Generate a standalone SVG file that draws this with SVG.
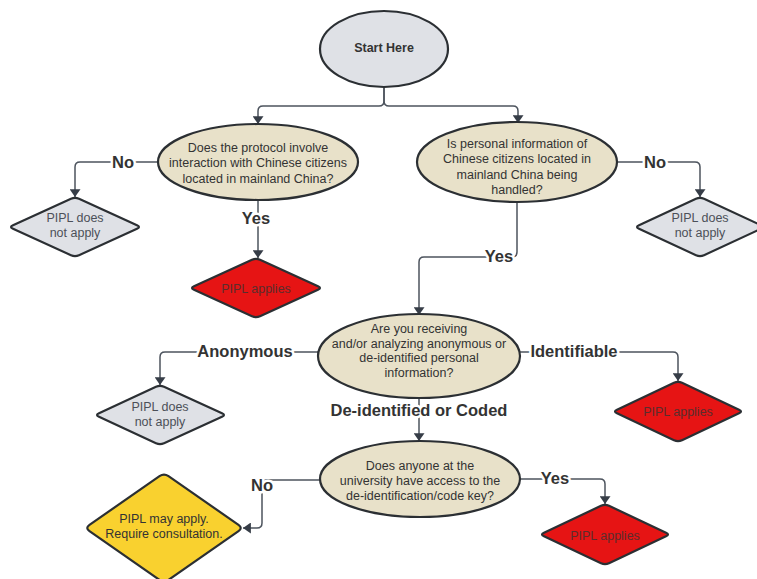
<svg xmlns="http://www.w3.org/2000/svg" width="757" height="579" viewBox="0 0 757 579">
  <defs>
    <marker id="arr" viewBox="0 0 10 14" refX="10" refY="7" markerWidth="14" markerHeight="11" markerUnits="userSpaceOnUse" orient="auto">
      <path d="M0,0 L10,7 L0,14 z" fill="#363d47"/>
    </marker>
    <style>
      .conn { fill: none; stroke: #4d545e; stroke-width: 1.5; marker-end: url(#arr); }
      .shape { stroke: #2b2f33; stroke-width: 2.2; stroke-linejoin: round; }
      .start { fill: #dfe1e6; }
      .q { fill: #e8e1c9; }
      .gray { fill: #dfe1e6; }
      .red { fill: #e61414; }
      .yellow { fill: #f9d12f; }
      text { font-family: "Liberation Sans", Arial, sans-serif; text-anchor: middle; }
      .t { font-size: 12.5px; fill: #333333; }
      .tb { font-size: 12.5px; font-weight: bold; fill: #333333; }
      .tg { font-size: 12.5px; fill: #4c5058; }
      .tr { font-size: 12.5px; fill: #5a2d2d; }
      .lbl { font-size: 16.5px; font-weight: bold; fill: #333333; stroke: #ffffff; stroke-width: 5; paint-order: stroke; stroke-linejoin: round; }
    </style>
  </defs>

  <g id="connectors">
    <path class="conn" d="M384,87 V101 Q384,106 379,106 H263 Q258,106 258,111 V124"/>
    <path class="conn" d="M384,87 V101 Q384,106 389,106 H513 Q518,106 518,111 V123"/>
    <path class="conn" d="M158,162 H80 Q75,162 75,167 V197"/>
    <path class="conn" d="M258,200 V258"/>
    <path class="conn" d="M617,162 H695 Q700,162 700,167 V197"/>
    <path class="conn" d="M517,202 V252 Q517,257 512,257 H424 Q419,257 419,262 V315"/>
    <path class="conn" d="M318,352 H165 Q160,352 160,357 V385"/>
    <path class="conn" d="M520,352 H673 Q678,352 678,357 V381"/>
    <path class="conn" d="M419,398 V441"/>
    <path class="conn" d="M320,480 H267 Q262,480 262,485 V523 Q262,528 257,528 H243"/>
    <path class="conn" d="M520,479 H600 Q605,479 605,484 V504"/>
    <text class="lbl" x="123" y="168">No</text>
    <text class="lbl" x="256" y="224">Yes</text>
    <text class="lbl" x="655" y="168">No</text>
    <text class="lbl" x="499" y="262">Yes</text>
    <text class="lbl" x="245" y="357">Anonymous</text>
    <text class="lbl" x="574" y="357">Identifiable</text>
    <text class="lbl" x="419" y="416">De-identified or Coded</text>
    <text class="lbl" x="262" y="491">No</text>
    <text class="lbl" x="555" y="484">Yes</text>
  </g>

  <g id="start">
    <ellipse class="shape start" cx="384" cy="49" rx="64" ry="38"/>
    <text class="tb" x="384" y="51.5">Start Here</text>
  </g>

  <g id="q1">
    <ellipse class="shape q" cx="258" cy="162" rx="100" ry="38"/>
    <text class="t" x="258" y="151.5">Does the protocol involve</text>
    <text class="t" x="258" y="167">interaction with Chinese citizens</text>
    <text class="t" x="258" y="182.5">located in mainland China?</text>
  </g>

  <g id="q2">
    <ellipse class="shape q" cx="517" cy="162" rx="100" ry="40"/>
    <text class="t" x="517" y="147.5">Is personal information of</text>
    <text class="t" x="517" y="163">Chinese citizens located in</text>
    <text class="t" x="517" y="178.5">mainland China being</text>
    <text class="t" x="517" y="194">handled?</text>
  </g>

  <g id="na1">
    <path class="shape gray" d="M71,198.8 Q75,197 79,198.8 L137,225.2 Q141,227 137,228.8 L79,255.2 Q75,257 71,255.2 L13,228.8 Q9,227 13,225.2 Z"/>
    <text class="tg" x="75" y="221.5">PIPL does</text>
    <text class="tg" x="75" y="236.5">not apply</text>
  </g>

  <g id="ap1">
    <path class="shape red" d="M252,259.8 Q256,258 260,259.8 L318,286.2 Q322,288 318,289.8 L260,316.2 Q256,318 252,316.2 L194,289.8 Q190,288 194,286.2 Z"/>
    <text class="tr" x="256" y="292.5">PIPL applies</text>
  </g>

  <g id="na2">
    <path class="shape gray" d="M696,198.8 Q700,197 704,198.8 L761,225.2 Q765,227 761,228.8 L704,255.2 Q700,257 696,255.2 L639,228.8 Q635,227 639,225.2 Z"/>
    <text class="tg" x="700" y="221.5">PIPL does</text>
    <text class="tg" x="700" y="236.5">not apply</text>
  </g>

  <g id="q3">
    <ellipse class="shape q" cx="419" cy="356" rx="101" ry="42"/>
    <text class="t" x="419" y="332.5">Are you receiving</text>
    <text class="t" x="419" y="347.5">and/or analyzing anonymous or</text>
    <text class="t" x="419" y="362">de-identified personal</text>
    <text class="t" x="419" y="377">information?</text>
  </g>

  <g id="na3">
    <path class="shape gray" d="M156,386.8 Q160,385 164,386.8 L222,413.2 Q226,415 222,416.8 L164,443.2 Q160,445 156,443.2 L99,416.8 Q95,415 99,413.2 Z"/>
    <text class="tg" x="160" y="410.5">PIPL does</text>
    <text class="tg" x="160" y="425.5">not apply</text>
  </g>

  <g id="ap2">
    <path class="shape red" d="M674,382.8 Q678,381 682,382.8 L739,409.7 Q743,411.5 739,413.3 L682,440.2 Q678,442 674,440.2 L617,413.3 Q613,411.5 617,409.7 Z"/>
    <text class="tr" x="678" y="415.5">PIPL applies</text>
  </g>

  <g id="q4">
    <ellipse class="shape q" cx="420" cy="479" rx="100" ry="38"/>
    <text class="t" x="420" y="469.5">Does anyone at the</text>
    <text class="t" x="420" y="484.5">university have access to the</text>
    <text class="t" x="420" y="499.5">de-identification/code key?</text>
  </g>

  <g id="may">
    <path class="shape yellow" d="M159.5,476.1 Q164,473 168.5,476.1 L238.5,524.9 Q243,528 238.5,531.1 L168.5,579.9 Q164,583 159.5,579.9 L89.5,531.1 Q85,528 89.5,524.9 Z"/>
    <text class="t" x="164" y="522.5">PIPL may apply.</text>
    <text class="t" x="164" y="537.5">Require consultation.</text>
  </g>

  <g id="ap3">
    <path class="shape red" d="M601,505.8 Q605,504 609,505.8 L666,532.7 Q670,534.5 666,536.3 L609,563.2 Q605,565 601,563.2 L544,536.3 Q540,534.5 544,532.7 Z"/>
    <text class="tr" x="605" y="539.5">PIPL applies</text>
  </g>
</svg>
